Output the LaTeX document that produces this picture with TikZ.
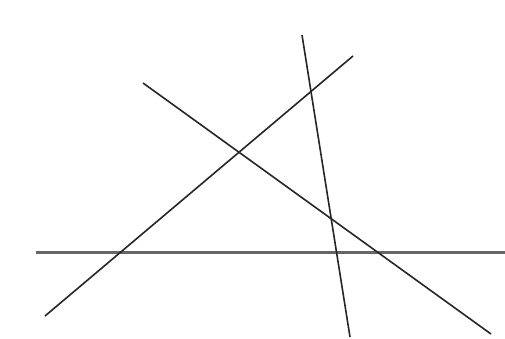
\documentclass[tikz,border=0pt]{standalone}
\begin{document}
\begin{tikzpicture}[x=1pt,y=-1pt,
  thinline/.style={draw=black!85,line width=1.6pt},
  thickline/.style={draw=black!60,line width=2.4pt}]
\useasboundingbox[fill=white] (0,0) rectangle (505,338);
\coordinate (h1) at (36,252.5);
\coordinate (h2) at (505,252.5);
\coordinate (a1) at (45,316);
\coordinate (a2) at (353,56);
\coordinate (b1) at (143,83);
\coordinate (b2) at (491,334);
\coordinate (c1) at (302,35);
\coordinate (c2) at (350,337);
\draw[thickline] (h1) -- (h2);
\draw[thinline] (a1) -- (a2);
\draw[thinline] (b1) -- (b2);
\draw[thinline] (c1) -- (c2);
\end{tikzpicture}
\end{document}
